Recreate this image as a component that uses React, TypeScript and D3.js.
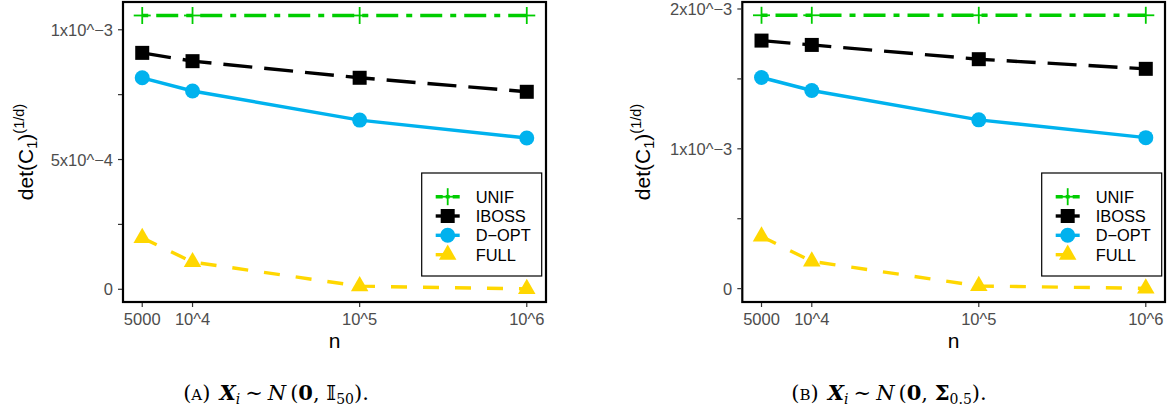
import React from "react";
import * as d3 from "d3";

const N_VALUES = [5000, 10000, 100000, 1000000];
const X_TICK_LABELS = ["5000", "10^4", "10^5", "10^6"];
const SERIES_NAMES = ["UNIF", "IBOSS", "D\u2212OPT", "FULL"];

const UNIF_A = [1.055e-3, 1.055e-3, 1.055e-3, 1.055e-3];
const IBOSS_A = [0.911e-3, 0.879e-3, 0.815e-3, 0.761e-3];
const DOPT_A = [0.815e-3, 0.764e-3, 0.652e-3, 0.583e-3];
const FULL_A = [0.198e-3, 0.105e-3, 0.012e-3, 0.0015e-3];

const UNIF_B = [1.955e-3, 1.955e-3, 1.955e-3, 1.955e-3];
const IBOSS_B = [1.774e-3, 1.743e-3, 1.641e-3, 1.572e-3];
const DOPT_B = [1.51e-3, 1.417e-3, 1.207e-3, 1.08e-3];
const FULL_B = [0.373e-3, 0.195e-3, 0.019e-3, 0.002e-3];

const Y_TICKS_A = [0, 2.5e-4, 5e-4, 7.5e-4, 1e-3];
const Y_TICK_LABELS_A = ["0", "", "5x10^\u22124", "", "1x10^\u22123"];
const Y_TICKS_B = [0, 5e-4, 1e-3, 1.5e-3, 2e-3];
const Y_TICK_LABELS_B = ["0", "", "1x10^\u22123", "", "2x10^\u22123"];

const COLORS = ["#00CD00", "#000000", "#00B2EE", "#FFD700"];
const DASHES = ["6 8 22 8", "29 12", "none", "16 16"];
const SHAPES = ["plus", "square", "circle", "triangle"];

const SANS = "'Liberation Sans', Arial, Helvetica, sans-serif";
const SERIF = "'DejaVu Serif', 'Liberation Serif', serif";

function Marker({ shape, x, y, color }: { shape: string; x: number; y: number; color: string }) {
  if (shape === "plus") {
    return (
      <g stroke={color} strokeWidth={1.8}>
        <line x1={x - 8.5} x2={x + 8.5} y1={y} y2={y} />
        <line x1={x} x2={x} y1={y - 8.5} y2={y + 8.5} />
      </g>
    );
  }
  if (shape === "square") {
    return <rect x={x - 7} y={y - 7} width={14} height={14} fill={color} />;
  }
  if (shape === "circle") {
    return <circle cx={x} cy={y} r={7.5} fill={color} />;
  }
  const s = 6.5;
  const pts = [
    [x, y - 1.555 * s],
    [x + 1.3468 * s, y + 0.7776 * s],
    [x - 1.3468 * s, y + 0.7776 * s],
  ];
  return <polygon points={pts.map((p) => p.join(",")).join(" ")} fill={color} />;
}

type PanelProps = {
  x0: number;
  x1: number;
  y0: number;
  y1: number;
  yDomain: [number, number];
  series: number[][];
  yTicks: number[];
  yTickLabels: string[];
  titleX: number;
  legendX: number;
  caption: React.ReactNode;
  captionX: number;
};

function Panel(p: PanelProps) {
  const logMin = Math.log10(N_VALUES[0]);
  const logMax = Math.log10(N_VALUES[N_VALUES.length - 1]);
  const w = p.x1 - p.x0;
  const inner = w / 1.1;
  const pad = (w - inner) / 2;
  const x = d3
    .scaleLog()
    .domain([Math.pow(10, logMin), Math.pow(10, logMax)])
    .range([p.x0 + pad, p.x1 - pad]);
  const y = d3.scaleLinear().domain(p.yDomain).range([p.y1, p.y0]);
  const line = d3
    .line<number>()
    .x((_, i) => x(N_VALUES[i]))
    .y((d) => y(d));

  const legendTop = 173;
  const legendBottom = 276;
  const itemY = [196.7, 216, 235.3, 254.7];

  return (
    <g>
      <rect x={p.x0} y={p.y0} width={w} height={p.y1 - p.y0} fill="#fff" />
      {p.series.map((vals, si) => (
        <path
          key={"l" + si}
          d={line(vals) || ""}
          fill="none"
          stroke={COLORS[si]}
          strokeWidth={3.4}
          strokeDasharray={DASHES[si]}
          strokeLinecap="butt"
        />
      ))}
      {p.series.map((vals, si) =>
        vals.map((v, i) => (
          <Marker key={"m" + si + "-" + i} shape={SHAPES[si]} x={x(N_VALUES[i])} y={y(v)} color={COLORS[si]} />
        ))
      )}
      {/* legend */}
      <rect
        x={p.legendX}
        y={legendTop}
        width={120}
        height={legendBottom - legendTop}
        fill="#fff"
        stroke="#000"
        strokeWidth={1.2}
      />
      {SERIES_NAMES.map((name, si) => (
        <g key={"lg" + si}>
          <line
            x1={p.legendX + 14}
            x2={p.legendX + 38}
            y1={itemY[si]}
            y2={itemY[si]}
            stroke={COLORS[si]}
            strokeWidth={3.4}
            strokeDasharray={si === 0 ? "7 3 4 3 7" : DASHES[si]}
          />
          <Marker shape={SHAPES[si]} x={p.legendX + 26} y={itemY[si]} color={COLORS[si]} />
          <text
            x={p.legendX + 54}
            y={itemY[si] + 6}
            fontFamily={SANS}
            fontSize={16.4}
            fill="#000"
          >
            {name}
          </text>
        </g>
      ))}
      <rect x={p.x0} y={p.y0} width={w} height={p.y1 - p.y0} fill="none" stroke="#000" strokeWidth={2.2} />
      {/* y axis */}
      {p.yTicks.map((t, i) => (
        <g key={"yt" + i}>
          <line x1={p.x0 - 5} x2={p.x0 - 1} y1={y(t)} y2={y(t)} stroke="#333" strokeWidth={1.2} />
          {p.yTickLabels[i] && (
            <text
              x={p.x0 - 10}
              y={y(t) + 6}
              textAnchor="end"
              fontFamily={SANS}
              fontSize={16.5}
              fill="#4D4D4D"
            >
              {p.yTickLabels[i]}
            </text>
          )}
        </g>
      ))}
      {/* x axis */}
      {N_VALUES.map((n, i) => (
        <g key={"xt" + i}>
          <line x1={x(n)} x2={x(n)} y1={p.y1 + 1} y2={p.y1 + 5} stroke="#333" strokeWidth={1.2} />
          <text x={x(n)} y={325} textAnchor="middle" fontFamily={SANS} fontSize={16.5} fill="#4D4D4D">
            {X_TICK_LABELS[i]}
          </text>
        </g>
      ))}
      <text x={(p.x0 + p.x1) / 2} y={348} textAnchor="middle" fontFamily={SANS} fontSize={21} fill="#000">
        n
      </text>
      <text
        transform={`translate(${p.titleX},${(p.y0 + p.y1) / 2}) rotate(-90)`}
        textAnchor="middle"
        fontFamily={SANS}
        fontSize={21}
        fill="#000"
      >
        <tspan>det(C</tspan>
        <tspan fontSize={14.5} dy={4}>1</tspan>
        <tspan dy={-4}>)</tspan>
        <tspan fontSize={14.5} dy={-9}>(1/d)</tspan>
      </text>
      <text x={p.captionX} y={400} textAnchor="middle" fontFamily={SERIF} fontSize={21} fill="#000">
        {p.caption}
      </text>
    </g>
  );
}

export default function App() {
  const capA = (
    <>
      <tspan>(</tspan>
      <tspan fontSize={15}>A</tspan>
      <tspan>)</tspan>
      <tspan dx={9} fontWeight="bold" fontStyle="italic">X</tspan>
      <tspan fontStyle="italic" fontSize={14} dy={4}>i</tspan>
      <tspan dy={-4} dx={5}>∼</tspan>
      <tspan dx={5} fontStyle="italic">N</tspan>
      <tspan dx={4}>(</tspan>
      <tspan fontWeight="bold">0</tspan>
      <tspan>, 𝕀</tspan>
      <tspan fontSize={14} dy={4}>50</tspan>
      <tspan dy={-4}>).</tspan>
    </>
  );
  const capB = (
    <>
      <tspan>(</tspan>
      <tspan fontSize={15}>B</tspan>
      <tspan>)</tspan>
      <tspan dx={9} fontWeight="bold" fontStyle="italic">X</tspan>
      <tspan fontStyle="italic" fontSize={14} dy={4}>i</tspan>
      <tspan dy={-4} dx={5}>∼</tspan>
      <tspan dx={5} fontStyle="italic">N</tspan>
      <tspan dx={4}>(</tspan>
      <tspan fontWeight="bold">0</tspan>
      <tspan>, </tspan>
      <tspan fontWeight="bold">Σ</tspan>
      <tspan fontSize={14} dy={4}>0.5</tspan>
      <tspan dy={-4}>).</tspan>
    </>
  );
  return (
    <svg width={1174} height={416} style={{ position: "absolute", left: 0, top: 0 }}>
      <rect width={1174} height={416} fill="#fff" />
      <Panel
        x0={123}
        x1={546}
        y0={2}
        y1={302}
        yDomain={[-0.049e-3, 1.107e-3]}
        series={[UNIF_A, IBOSS_A, DOPT_A, FULL_A]}
        yTicks={Y_TICKS_A}
        yTickLabels={Y_TICK_LABELS_A}
        titleX={33}
        legendX={421.7}
        caption={capA}
        captionX={276}
      />
      <Panel
        x0={742.3}
        x1={1165}
        y0={2}
        y1={302}
        yDomain={[-0.0956e-3, 2.05e-3]}
        series={[UNIF_B, IBOSS_B, DOPT_B, FULL_B]}
        yTicks={Y_TICKS_B}
        yTickLabels={Y_TICK_LABELS_B}
        titleX={650}
        legendX={1041.7}
        caption={capB}
        captionX={889}
      />
    </svg>
  );
}
